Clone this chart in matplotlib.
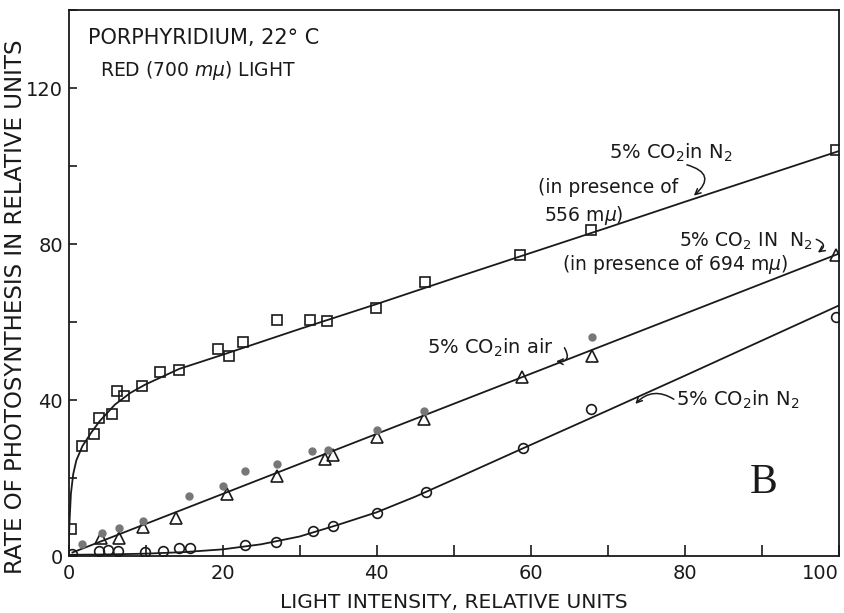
import matplotlib
matplotlib.use("Agg")
import matplotlib.pyplot as plt
from matplotlib.ticker import MultipleLocator

# ---- data ----
sq_x = [0.3, 1.8, 3.3, 4.0, 5.6, 6.3, 7.2, 9.5, 11.9, 14.3, 19.4, 20.8, 22.7,
        27.0, 31.4, 33.5, 39.9, 46.3, 58.6, 67.9, 99.6]
sq_y = [6.9, 28.2, 31.4, 35.5, 36.5, 42.3, 40.9, 43.7, 47.3, 47.7, 53.1, 51.2, 54.8,
        60.6, 60.6, 60.2, 63.6, 70.2, 77.1, 83.5, 104.2]
sq_curve_x = [0, 0.1, 0.3, 0.6, 1.0, 1.8, 3.0, 4.0, 6.0, 8.0, 10.0, 14.4, 20, 30,
              40, 50, 60, 70, 80, 90, 100]
sq_curve_y = [0, 8, 16, 21, 24.5, 28.2, 31.8, 34.5, 38.8, 41.8, 44.0, 48.0, 51.6, 58.2,
              64.6, 71.2, 77.7, 84.2, 90.8, 97.3, 103.8]

tri_x = [4.2, 6.6, 9.7, 14.0, 20.6, 27.0, 33.3, 34.4, 40.0, 46.1, 58.9, 68.0, 99.6]
tri_y = [4.5, 4.7, 7.4, 9.8, 15.9, 20.5, 25.0, 26.0, 30.6, 35.2, 45.9, 51.4, 77.1]

dot_x = [1.8, 4.3, 6.6, 9.7, 15.7, 20.0, 22.9, 27.0, 31.6, 33.7, 40.1, 46.2, 68.0]
dot_y = [3.1, 5.9, 7.1, 8.9, 15.4, 18.0, 21.8, 23.5, 26.9, 27.1, 32.4, 37.1, 56.1]

line_x = [0.5, 100]
line_y = [0.9, 77.5]

cir_x = [0.4, 4.0, 5.1, 6.4, 9.9, 12.3, 14.4, 15.8, 22.9, 26.9, 31.8, 34.4, 40.0,
         46.4, 59.0, 67.9, 99.6]
cir_y = [0.6, 1.2, 1.5, 1.2, 1.0, 1.2, 2.0, 2.0, 2.9, 3.7, 6.3, 7.6, 11.0,
         16.5, 27.6, 37.6, 61.2]
cir_curve_x = [0, 5, 10, 15, 20, 25, 30, 35, 40, 45, 50, 59, 70, 80, 90, 100]
cir_curve_y = [0.3, 0.4, 0.6, 1.0, 1.7, 3.0, 5.0, 8.0, 11.2, 15.2, 19.6, 27.6,
               37.3, 46.2, 55.2, 64.2]

x_ticklabels = ["0", "20", "40", "60", "80", "100"]
y_ticklabels = ["0", "40", "80", "120"]

plt.rcParams["font.family"] = ["DejaVu Sans"]
plt.rcParams["mathtext.fontset"] = "dejavusans"

fig = plt.figure(figsize=(8.44, 6.13), dpi=100)
W, H = 844, 613
ax = fig.add_axes([68.6 / W, (H - 556) / H, 770 / W, 546 / H])

ink = "#1a1a1a"
ax.plot(sq_curve_x, sq_curve_y, color=ink, lw=1.3)
ax.plot(line_x, line_y, color=ink, lw=1.3)
ax.plot(cir_curve_x, cir_curve_y, color=ink, lw=1.3)

ax.plot(sq_x, sq_y, ls="none", marker="s", ms=6.5, mfc="none", mec=ink, mew=1.2)
ax.plot(tri_x, tri_y, ls="none", marker="^", ms=8, mfc="none", mec=ink, mew=1.2)
ax.plot(dot_x, dot_y, ls="none", marker="o", ms=5, mfc="#777777", mec="#777777")
ax.plot(cir_x, cir_y, ls="none", marker="o", ms=7, mfc="none", mec=ink, mew=1.2)

ax.set_xlim(0, 100)
ax.set_ylim(0, 140)
ax.set_xticks([0, 20, 40, 60, 80, 100])
ax.set_xticklabels(x_ticklabels)
ax.set_yticks([0, 40, 80, 120])
ax.set_yticklabels(y_ticklabels)
ax.xaxis.set_minor_locator(MultipleLocator(10))
ax.yaxis.set_minor_locator(MultipleLocator(20))
ax.tick_params(axis="x", which="both", direction="in", length=8, width=1.2,
               pad=6, labelsize=14, colors=ink)
ax.tick_params(axis="y", which="both", direction="in", length=6, width=1.2,
               pad=4, labelsize=14, colors=ink)
ax.get_xticklabels()[-1].set_horizontalalignment("right")
for s in ax.spines.values():
    s.set_linewidth(1.3)
    s.set_color(ink)

ax.set_xlabel("LIGHT INTENSITY, RELATIVE UNITS", fontsize=14.5, color=ink)
ax.xaxis.set_label_coords((454 - 68.6) / 770, -(603 - 556) / 546)
ax.xaxis.label.set_va("center")
ax.set_ylabel("RATE OF PHOTOSYNTHESIS IN RELATIVE UNITS", fontsize=16.5, color=ink)
ax.yaxis.set_label_coords(-(68.6 - 27) / 770, (556 - 307) / 546)

# ---- annotations ----
ax.text(2.5, 132.8, "PORPHYRIDIUM, 22° C", fontsize=15, va="center", color=ink)
ax.text(4.1, 124.6, "RED (700 $m\\mu$) LIGHT", fontsize=13.5, va="center", color=ink)

ax.text(70.2, 103.3, "5% CO$_2$in N$_2$", fontsize=14, va="center", color=ink)
ax.text(60.9, 94.6, "(in presence of", fontsize=13.5, va="center", color=ink)
ax.text(61.8, 87.4, "556 m$\\mu$)", fontsize=13.5, va="center", color=ink)
ax.annotate("", xy=(81.2, 92.4), xytext=(80.3, 100.3),
            arrowprops=dict(arrowstyle="->", color=ink, lw=1.1,
                            connectionstyle="arc3,rad=-0.9", shrinkA=0, shrinkB=0))

ax.text(79.3, 80.6, "5% CO$_2$ IN  N$_2$", fontsize=13.5, va="center", color=ink)
ax.text(64.1, 74.8, "(in presence of 694 m$\\mu$)", fontsize=13.5, va="center", color=ink)
ax.annotate("", xy=(97.3, 77.8), xytext=(97.1, 81.2),
            arrowprops=dict(arrowstyle="->", color=ink, lw=1.1,
                            connectionstyle="arc3,rad=-0.9", shrinkA=0, shrinkB=0))

ax.text(46.6, 53.3, "5% CO$_2$in air", fontsize=14, va="center", color=ink)
ax.annotate("", xy=(63.3, 49.9), xytext=(64.4, 53.4),
            arrowprops=dict(arrowstyle="->", color=ink, lw=1.1,
                            connectionstyle="arc3,rad=-0.9", shrinkA=0, shrinkB=0))

ax.text(78.9, 40.0, "5% CO$_2$in N$_2$", fontsize=14, va="center", color=ink)
ax.annotate("", xy=(73.6, 39.0), xytext=(78.6, 40.2),
            arrowprops=dict(arrowstyle="->", color=ink, lw=1.1,
                            connectionstyle="arc3,rad=0.4", shrinkA=0, shrinkB=0))

ax.text(90.3, 18.7, "B", fontsize=30, ha="center", va="center", color=ink,
        family="Liberation Serif")

fig.savefig("out.png", dpi=100, facecolor="white")
